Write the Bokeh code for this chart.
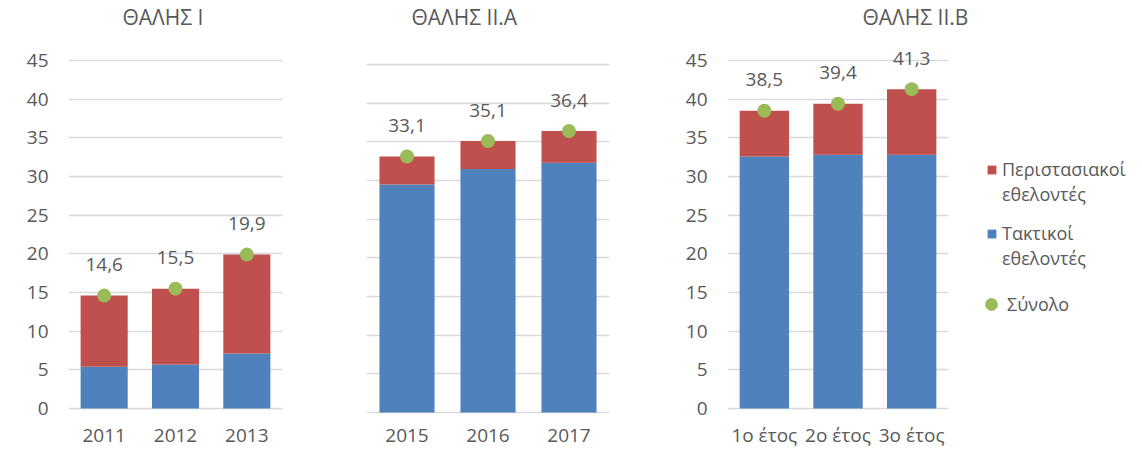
from bokeh.plotting import figure
from bokeh.models import FactorRange, Range1d, FixedTicker, Legend, LegendItem, ColumnDataSource
from bokeh.layouts import row
from bokeh.core.properties import value
from bokeh.embed import file_html
from bokeh.resources import INLINE

# ---- data ----
titles = ["ΘΑΛΗΣ I", "ΘΑΛΗΣ II.A", "ΘΑΛΗΣ II.B"]
cats1 = ["2011", "2012", "2013"]
cats2 = ["2015", "2016", "2017"]
cats3 = ["1ο έτος", "2ο έτος", "3ο έτος"]
regular1 = [5.4, 5.7, 7.1]
casual1 = [9.2, 9.8, 12.8]
total1 = [14.6, 15.5, 19.9]
regular2 = [29.5, 31.5, 32.3]
casual2 = [3.6, 3.6, 4.1]
total2 = [33.1, 35.1, 36.4]
regular3 = [32.6, 32.8, 32.8]
casual3 = [5.9, 6.6, 8.5]
total3 = [38.5, 39.4, 41.3]
yticks = [0, 5, 10, 15, 20, 25, 30, 35, 40, 45]
legend_lines = [["Περιστασιακοί", "εθελοντές"], ["Τακτικοί", "εθελοντές"], ["Σύνολο"]]

BLUE = "#4F81BD"
RED = "#C0504D"
GREEN = "#9BBB59"
TXT = "#595959"
GRID = "#D9D9D9"
FONT = "Open Sans"
FS = "19px"
H = 448


def make_source(cats, regular, casual, total):
    return ColumnDataSource(dict(
        cat=cats, regular=regular, casual=casual, total=total,
        lab=[f"{v:.1f}".replace(".", ",") for v in total],
    ))


def make_panel(title, src, cats, width, bl, br, top, zero_y, scale,
               show_y, title_left, bar_w, xlab_standoff):
    y_end = (zero_y - top) / scale
    y_start = -(H - zero_y) / scale
    p = figure(x_range=FactorRange(*cats, range_padding=0), y_range=Range1d(y_start, y_end),
               width=width, height=H, output_backend="svg", toolbar_location=None,
               min_border_left=bl, min_border_right=br, min_border_top=top,
               min_border_bottom=0, outline_line_color=None, title=title)
    p.vbar_stack(["regular", "casual"], x="cat", width=bar_w, source=src,
                 color=[BLUE, RED], line_color=None)
    p.scatter(x="cat", y="total", source=src, size=14, color=GREEN, line_color=None)
    p.text(x="cat", y="total", text="lab", source=src, text_align="center",
           text_baseline="middle", y_offset=-31, text_font=value(FONT),
           text_font_size=FS, text_color=TXT)

    p.title.align = "left"
    p.title.offset = title_left
    p.title.standoff = 0
    p.title.text_font = FONT
    p.title.text_font_size = "21px"
    p.title.text_font_style = "normal"
    p.title.text_color = TXT

    p.xgrid.grid_line_color = None
    p.ygrid.ticker = FixedTicker(ticks=yticks)
    p.ygrid.grid_line_color = GRID
    p.ygrid.grid_line_width = 1.3

    p.yaxis.ticker = FixedTicker(ticks=yticks)
    for ax in (p.xaxis[0], p.yaxis[0]):
        ax.axis_line_color = None
        ax.major_tick_line_color = None
        ax.minor_tick_line_color = None
        ax.major_tick_out = 0
        ax.major_tick_in = 0
        ax.major_label_text_font = FONT
        ax.major_label_text_font_size = FS
        ax.major_label_text_color = TXT
    p.xaxis.fixed_location = 0
    p.xaxis.major_label_standoff = xlab_standoff
    p.yaxis.major_label_standoff = 20
    p.yaxis.visible = show_y
    return p


src1 = make_source(cats1, regular1, casual1, total1)
src2 = make_source(cats2, regular2, casual2, total2)
src3 = make_source(cats3, regular3, casual3, total3)

p1 = make_panel(titles[0], src1, cats1, 330, 68, 48, 30, 408, 7.733, True, 54, 0.66, 20)
p2 = make_panel(titles[1], src2, cats2, 330, 36, 51, 30, 412, 7.733, False, 45, 0.68, 16)
p3 = make_panel(titles[2], src3, cats3, 320, 67, 32, 30, 408, 7.733, True, 135, 0.67, 13)

# ---- legend panel: proxies draw the panel-3 data far outside the visible range ----
p4 = figure(width=146, height=H, output_backend="svg", toolbar_location=None,
            x_range=FactorRange(*cats3), y_range=Range1d(1000, 1001), min_border=0,
            outline_line_color=None)
p4.axis.visible = False
p4.grid.visible = False
r_stack = p4.vbar_stack(["regular", "casual"], x="cat", width=0.5, source=src3,
                        color=[BLUE, RED], line_color=None)
r_total = p4.scatter(x="cat", y="total", source=src3, color=GREEN, line_color=None)
r_blank = p4.scatter(x="cat", y="total", source=src3, fill_alpha=0, line_alpha=0)

legend_renderers = [r_stack[1], r_stack[0], r_total]
legend_pos = [(6, 242), (6, 178), (-5, 128)]
glyph_sizes = [11, 11, 32]
standoffs = [5, 5, -5]
for lines, rend, pos, gs, so in zip(legend_lines, legend_renderers, legend_pos,
                                    glyph_sizes, standoffs):
    items = [LegendItem(label=lines[0], renderers=[rend])]
    for extra in lines[1:]:
        items.append(LegendItem(label=extra, renderers=[r_blank]))
    lg = Legend(items=items, location=pos)
    lg.border_line_color = None
    lg.background_fill_alpha = 0
    lg.label_text_font = FONT
    lg.label_text_font_size = "18px"
    lg.label_text_color = TXT
    lg.glyph_width = gs
    lg.glyph_height = gs
    lg.label_standoff = so
    lg.spacing = 1
    lg.padding = 0
    lg.margin = 0
    p4.add_layout(lg)

layout = row(p1, p2, p3, p4)
open("out.html", "w").write(file_html(layout, INLINE))
